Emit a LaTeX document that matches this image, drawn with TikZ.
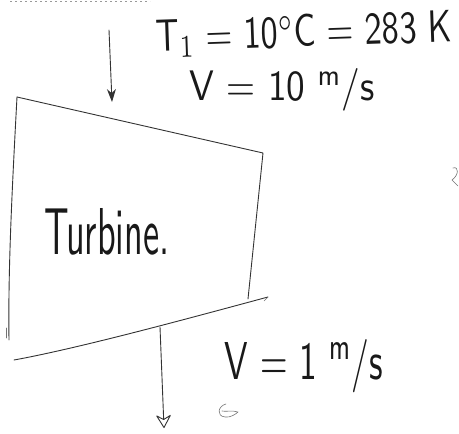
\documentclass[tikz,border=0pt]{standalone}
\usetikzlibrary{arrows.meta}
\usepackage{graphicx}
\begin{document}
\begin{tikzpicture}[x=1pt,y=-1pt,
  sketch/.style={draw=black!80,line width=0.9pt,line cap=round,line join=round},
  faint/.style={draw=black!55,line width=0.6pt,line cap=round,line join=round},
  flow/.style={sketch,-{Stealth[length=13pt,width=9pt]}},
  flowopen/.style={sketch,-{Stealth[open,round,length=14pt,width=16pt]}},
  hand/.style={inner sep=0pt,font=\sffamily,text=black!90}]
\useasboundingbox (0,0) rectangle (459,434);

% scan strip at the top
\draw[black!40,line width=0.8pt,dash pattern=on 2pt off 3pt] (10,1) -- (150,1);

% turbine outline
\coordinate (tl) at (17,97);
\coordinate (tr) at (263,153);
\coordinate (br) at (248,299);
\coordinate (le) at (9,340);
\coordinate (bl) at (14,360);
\coordinate (be) at (268,297);
\draw[sketch] (tl) -- (tr) -- (br);
\draw[sketch] (tl) .. controls (12,190) and (8,270) .. (le);
\draw[sketch] (bl) .. controls (80,348) and (190,318) .. (be);
\draw[faint] (be) -- (264,301);
\draw[faint] (6,328) -- (6,338);

% label inside
\node[hand] (turb) at (107,232) {\resizebox{125pt}{46pt}{Turbine.}};

% inlet
\coordinate (inA) at (109,30);
\coordinate (inB) at (112,102);
\draw[flow] (inA) -- (inB);
\node[hand,rotate=2] (t1) at (304,34) {\resizebox{296pt}{32pt}{T$_1$ = 10$^\circ$C = 283 K}};
\node[hand] (v1) at (282,90) {\resizebox{185pt}{32pt}{V = 10 \textsuperscript{m}/s}};

% outlet
\coordinate (outA) at (160,327);
\coordinate (outB) at (164,428);
\draw[flowopen] (outA) -- (outB);
\node[hand] (v2) at (304,366) {\resizebox{158pt}{40pt}{V = 1 \textsuperscript{m}/s}};

% stray pen marks
\draw[faint] (453,168) .. controls (459,166) and (459,175) .. (452,180) -- (458,186);
\draw[faint] (226,404) .. controls (218,406) and (216,416) .. (225,417) .. controls (230,418) and (236,414) .. (238,412) .. controls (232,410) and (226,412) .. (222,411);
\end{tikzpicture}
\end{document}
